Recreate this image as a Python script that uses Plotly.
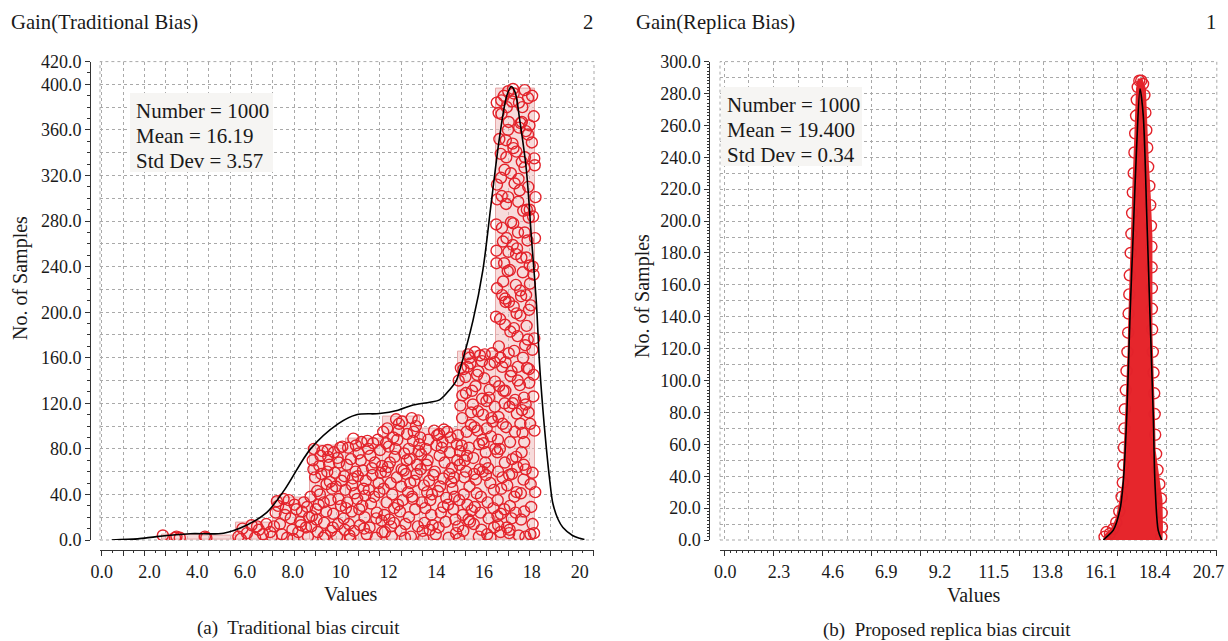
import plotly.graph_objects as go

W, H = 1228, 641
FONT = "Liberation Serif"
INK = "#1a1a1a"
RED = "#e3232b"

# ---------------- left chart data (Traditional Bias) ----------------
L_EDGES = [2.51, 4.08, 5.64, 7.17, 8.71, 10.24, 11.77, 13.31, 14.90, 16.48, 18.15]
L_COUNTS = [5, 4, 15, 37, 83, 89, 108, 98, 165, 396]

L_CURVE_X = [0.42, 1.5, 2.3, 3.7, 5.1, 6.06, 6.9, 7.65, 8.74, 9.89, 10.66, 11.63, 12.4, 13.03,
             13.73, 14.14, 14.56, 14.84, 14.98, 15.54, 15.95, 16.30, 16.65, 16.95, 17.14, 17.30,
             17.49, 17.77, 17.98, 18.19, 18.32, 18.46, 18.60, 18.75, 18.88, 19.1, 19.3, 19.7, 20.0, 20.2]
L_CURVE_Y = [0, 1, 3, 5.5, 6, 13, 24, 44, 80, 102, 110, 111, 114, 118.5,
             121, 123, 132, 140, 149, 193, 237, 296, 354, 390, 398, 393,
             369, 325, 266, 208, 155, 115, 82, 52, 32, 18, 11, 4, 1.5, 0.5]

# individual samples (value, jitter height inside its bar)
B1_X = [2.56, 3.07, 3.13, 3.27, 4.32, 4.38]
B1_Y = [4, 2, 3, 2, 3, 2]
B3_X = [5.72, 5.89, 6.08, 6.27, 6.42, 6.58, 6.75, 6.89, 7.05, 5.82, 6.50, 7.12]
B3_Y = [3, 10, 6, 13, 2, 9, 5, 14, 7, 1, 12, 3]
B4_X = [7.21, 7.38, 7.54, 7.67, 7.83, 7.98, 8.15, 8.30, 8.46, 8.63, 7.28, 7.46, 7.61, 7.76, 7.91,
        8.07, 8.23, 8.38, 8.55, 8.68, 7.33, 7.71, 8.02, 8.34, 8.60]
B4_Y = [12, 30, 5, 22, 35, 9, 27, 16, 33, 3, 24, 14, 36, 2, 19, 31, 7, 25, 11, 20, 34, 28, 1, 13, 29]
B5_X = [8.77, 8.93, 9.08, 9.24, 9.35, 9.52, 9.69, 9.80, 9.98, 10.17,
        8.83, 8.99, 9.13, 9.27, 9.44, 9.57, 9.72, 9.89, 10.04, 10.22,
        8.74, 8.88, 9.04, 9.19, 9.39, 9.48, 9.64, 9.85, 9.93, 10.13,
        8.86, 8.97, 9.16, 9.31, 9.41, 9.60, 9.76, 9.91, 10.07, 10.20,
        8.80, 9.02, 9.11, 9.29, 9.46, 9.55, 9.67, 9.87, 10.01, 10.15]
B5_Y = [12, 55, 31, 78, 4, 66, 23, 47, 81, 9,
        70, 18, 40, 2, 60, 35, 77, 14, 52, 28,
        38, 80, 7, 58, 25, 73, 45, 3, 68, 19,
        62, 27, 74, 15, 49, 8, 59, 36, 82, 44,
        21, 43, 65, 33, 79, 51, 11, 72, 30, 56]
B6_X = [10.28, 10.43, 10.56, 10.72, 10.87, 11.00, 11.18, 11.31, 11.47, 11.65,
        10.34, 10.48, 10.64, 10.78, 10.93, 11.09, 11.24, 11.40, 11.55, 11.71,
        10.26, 10.40, 10.59, 10.75, 10.90, 11.05, 11.21, 11.36, 11.51, 11.68,
        10.31, 10.46, 10.62, 10.81, 10.96, 11.12, 11.27, 11.43, 11.59, 11.74,
        10.37, 10.53, 10.69, 10.84, 10.98, 11.15, 11.33, 11.49, 11.62, 11.73,
        10.51, 11.03]
B6_Y = [33, 71, 8, 56, 86, 20, 44, 63, 2, 79,
        14, 48, 83, 27, 61, 5, 74, 38, 88, 17,
        66, 1, 41, 76, 30, 52, 11, 85, 24, 59,
        81, 25, 60, 13, 45, 87, 32, 68, 50, 7,
        4, 89, 36, 70, 10, 80, 57, 19, 42, 65,
        54, 39]
B7_X = [11.80, 11.95, 12.11, 12.26, 12.40, 12.57, 12.73, 12.86, 13.03, 13.20,
        11.85, 12.01, 12.16, 12.32, 12.48, 12.64, 12.78, 12.94, 13.09, 13.27,
        11.78, 11.92, 12.06, 12.23, 12.37, 12.53, 12.69, 12.89, 12.99, 13.15,
        11.88, 12.04, 12.20, 12.35, 12.51, 12.66, 12.82, 12.97, 13.12, 13.29,
        11.83, 11.98, 12.14, 12.29, 12.44, 12.60, 12.76, 12.91, 13.06, 13.23,
        11.90, 12.09, 12.24, 12.42, 12.55, 12.71, 12.85, 13.01, 13.18, 13.25]
B7_Y = [45, 98, 12, 73, 31, 104, 58, 20, 87, 66,
        7, 82, 40, 106, 25, 61, 93, 3, 52, 78,
        95, 33, 68, 15, 88, 47, 2, 71, 38, 100,
        60, 18, 90, 55, 8, 76, 42, 107, 27, 84,
        22, 64, 3, 80, 102, 35, 70, 50, 95, 12,
        85, 50, 28, 96, 62, 14, 80, 36, 58, 105]
B8_X = [13.35, 13.51, 13.67, 13.82, 13.98, 14.14, 14.30, 14.46, 14.63, 14.80,
        13.40, 13.56, 13.72, 13.88, 14.04, 14.19, 14.35, 14.52, 14.68, 14.86,
        13.33, 13.48, 13.64, 13.79, 13.94, 14.10, 14.26, 14.42, 14.57, 14.75,
        13.43, 13.59, 13.75, 13.91, 14.07, 14.23, 14.39, 14.55, 14.71, 14.88,
        13.37, 13.54, 13.70, 13.85, 14.01, 14.16, 14.32, 14.49, 14.65, 14.83,
        13.62, 14.12, 14.60, 13.46, 14.29, 14.77]
B8_Y = [62, 15, 88, 40, 5, 74, 29, 95, 51, 18,
        33, 80, 9, 57, 92, 24, 68, 2, 45, 84,
        90, 48, 70, 22, 60, 11, 86, 37, 77, 55,
        8, 66, 35, 96, 43, 81, 16, 58, 27, 70,
        75, 28, 52, 13, 83, 47, 97, 31, 63, 6,
        42, 93, 90, 1, 54, 38]
B9_X = [14.94, 15.11, 15.27, 15.40, 15.59, 15.75, 15.89, 16.07, 16.23, 16.41,
        14.98, 15.14, 15.30, 15.45, 15.62, 15.78, 15.93, 16.10, 16.26, 16.44,
        14.92, 15.06, 15.24, 15.39, 15.55, 15.71, 15.87, 16.03, 16.19, 16.37,
        15.01, 15.17, 15.33, 15.48, 15.64, 15.81, 15.96, 16.13, 16.29, 16.46,
        14.96, 15.09, 15.28, 15.43, 15.57, 15.73, 15.91, 16.05, 16.21, 16.39,
        14.91, 15.13, 15.22, 15.37, 15.53, 15.69, 15.85, 16.01, 16.17, 16.34,
        15.03, 15.19, 15.35, 15.50, 15.66, 15.83, 15.98, 16.15, 16.31, 16.47,
        14.95, 15.08, 15.25, 15.41, 15.60, 15.76, 15.92, 16.08, 16.24, 16.42,
        14.99, 15.15, 15.31, 15.46, 15.61, 15.79, 15.94, 16.11, 16.27, 16.45]
B9_Y = [140, 22, 95, 160, 58, 113, 9, 77, 132, 44,
        66, 150, 31, 101, 165, 3, 88, 122, 50, 156,
        12, 83, 129, 47, 72, 145, 38, 163, 19, 104,
        118, 55, 163, 26, 135, 62, 110, 5, 91, 139,
        35, 127, 74, 155, 14, 96, 157, 68, 125, 28,
        92, 8, 143, 81, 119, 41, 24, 142, 63, 164,
        151, 70, 18, 131, 53, 162, 85, 33, 107, 80,
        1, 107, 60, 16, 99, 148, 124, 57, 154, 11,
        78, 40, 152, 112, 29, 84, 60, 98, 2, 117]
B10_X = [16.54, 16.72, 16.88, 17.03, 17.20, 17.38, 17.55, 17.70, 17.88, 18.07,
         16.58, 16.75, 16.91, 17.07, 17.24, 17.41, 17.58, 17.74, 17.91, 18.10,
         16.52, 16.68, 16.85, 17.01, 17.17, 17.34, 17.51, 17.67, 17.84, 18.03,
         16.61, 16.78, 16.94, 17.10, 17.27, 17.44, 17.61, 17.77, 17.94, 18.12,
         16.56, 16.70, 16.89, 17.05, 17.22, 17.36, 17.53, 17.72, 17.86, 18.05,
         16.50, 16.66, 16.83, 16.99, 17.15, 17.32, 17.49, 17.65, 17.82, 18.00,
         16.63, 16.80, 16.96, 17.12, 17.29, 17.46, 17.63, 17.79, 17.96, 18.14,
         16.55, 16.73, 16.90, 17.06, 17.23, 17.39, 17.56, 17.73, 17.89, 18.08,
         16.59, 16.76, 16.92, 17.08, 17.25, 17.42, 17.59, 17.75, 17.92, 18.11,
         16.53, 16.69, 16.86, 17.02, 17.18, 17.35, 17.52, 17.68, 17.85, 18.02,
         16.62, 16.79, 16.95, 17.11, 17.28, 17.45, 17.62, 17.78, 17.95, 18.13,
         16.57, 16.71, 16.87, 17.04, 17.21, 17.37, 17.54, 17.71, 17.87, 18.06,
         16.51, 16.67, 16.84, 17.00, 17.16, 17.33, 17.50, 17.66, 17.83, 18.01,
         16.60, 16.77, 16.93, 17.09, 17.26, 17.43, 17.60, 17.76, 17.93, 18.09,
         16.54, 16.74, 16.90, 17.05, 17.20, 17.40, 17.57, 17.69, 17.90, 18.04,
         16.64, 16.81, 16.97, 17.13, 17.30, 17.47, 17.64, 17.80, 17.97, 18.15,
         16.56, 16.72, 16.88, 17.03, 17.19, 17.36, 17.55, 17.70, 17.88, 18.07,
         16.52, 16.70, 16.86, 17.01, 17.17, 17.34, 17.52, 17.68, 17.84, 18.03,
         16.59, 16.76, 16.92, 17.08, 17.24, 17.41, 17.58, 17.74, 17.91, 18.10]
B10_Y = [312, 45, 189, 367, 120, 256, 18, 395, 150, 233,
         88, 274, 351, 9, 205, 140, 332, 62, 290, 177,
         243, 160, 27, 301, 385, 73, 219, 125, 356, 14,
         375, 102, 265, 183, 38, 317, 94, 248, 5, 329,
         21, 339, 131, 57, 278, 199, 366, 171, 112, 284,
         196, 80, 390, 236, 148, 24, 307, 53, 263, 349,
         135, 227, 11, 322, 95, 384, 160, 290, 206, 42,
         299, 374, 209, 117, 344, 64, 248, 3, 138, 372,
         60, 152, 295, 30, 186, 270, 114, 359, 225, 96,
         384, 7, 120, 253, 71, 341, 197, 86, 310, 167,
         170, 262, 380, 144, 313, 4, 235, 188, 49, 265,
         35, 318, 68, 209, 396, 111, 41, 336, 283, 126,
         277, 194, 243, 360, 19, 224, 136, 66, 176, 390,
         108, 55, 336, 86, 166, 297, 380, 215, 102, 6,
         221, 302, 156, 6, 259, 179, 77, 327, 364, 240,
         352, 131, 48, 279, 123, 362, 289, 151, 29, 301,
         77, 386, 212, 164, 348, 42, 214, 270, 202, 145,
         254, 23, 325, 394, 58, 251, 102, 25, 388, 59,
         13, 215, 99, 237, 392, 152, 367, 119, 241, 335]

L_XTICK_VALS = [0, 2, 4, 6, 8, 10, 12, 14, 16, 18, 20]
L_XTICK_TEXT = ["0.0", "2.0", "4.0", "6.0", "8.0", "10", "12", "14", "16", "18", "20"]
L_YTICK_VALS = [0, 40, 80, 120, 160, 200, 240, 280, 320, 360, 400, 420]
L_YTICK_TEXT = ["0.0", "40.0", "80.0", "120.0", "160.0", "200.0", "240.0", "280.0",
                "320.0", "360.0", "400.0", "420.0"]
L_STATS = ["Number = 1000", "Mean = 16.19", "Std Dev = 3.57"]

# ---------------- right chart data (Replica Bias) ----------------
R_MASS_X = [16.22, 16.27, 16.41, 16.60, 16.77, 16.92, 17.05, 17.10, 17.13, 17.20, 17.27, 17.30,
            17.34, 17.41, 17.48, 17.56, 17.63, 17.70,
            17.85, 17.99, 18.03, 18.06, 18.12, 18.20, 18.27, 18.27, 18.27, 18.31, 18.34, 18.38,
            18.41, 18.55, 18.70, 18.72, 18.70]
R_MASS_Y = [0, 3, 5, 8, 14, 25, 37, 55, 77, 98, 119, 140, 161, 190, 224, 254, 283, 289,
            289, 283, 265, 255, 235, 215, 190, 160, 130, 110, 98, 75, 56, 40, 25, 8, 0]
R_CIRC_X = [16.25, 16.33, 16.48, 16.62, 16.75, 16.88, 16.98, 17.03, 17.06, 17.08, 17.10, 17.12,
            17.16, 17.19, 17.23, 17.26, 17.28, 17.31, 17.33, 17.37, 17.40, 17.43, 17.46, 17.50,
            17.53, 17.56, 17.60, 17.63, 17.67, 17.74,
            17.82, 17.90, 17.96, 18.00, 18.04, 18.08, 18.12, 18.17, 18.21, 18.24, 18.26, 18.27,
            18.28, 18.28, 18.29, 18.32, 18.35, 18.38, 18.40, 18.42, 18.46, 18.52, 18.60, 18.67,
            18.70, 18.71, 18.68]
R_CIRC_Y = [2, 5, 4, 7, 11, 18, 27, 36, 47, 58, 70, 82, 94, 106, 118, 130, 142, 154, 166, 180,
            192, 205, 218, 230, 243, 255, 266, 276, 284, 288,
            288, 286, 279, 268, 257, 246, 234, 222, 210, 197, 184, 171, 158, 145, 132, 118, 105,
            92, 79, 66, 54, 44, 35, 26, 17, 8, 2]
R_CURVE_X = [16.20, 16.34, 16.62, 16.91, 17.05, 17.20, 17.34, 17.48, 17.62, 17.77, 17.91, 18.06,
             18.20, 18.34, 18.41, 18.55, 18.70]
R_CURVE_Y = [0, 2, 6, 19, 36, 77, 140, 193, 245, 283, 266, 203, 140, 77, 36, 6, 0]

R_XTICK_VALS = [0, 2.3, 4.6, 6.9, 9.2, 11.5, 13.8, 16.1, 18.4, 20.7]
R_XTICK_TEXT = ["0.0", "2.3", "4.6", "6.9", "9.2", "11.5", "13.8", "16.1", "18.4", "20.7"]
R_STATS = ["Number = 1000", "Mean = 19.400", "Std Dev = 0.34"]

# ---------------- layout geometry ----------------
def fx(p):
    return p / W


def fy(p):
    return 1 - p / H


Y_DOM = [fy(540), fy(61.6)]
L_DOM = [fx(100), fx(594)]
R_DOM = [fx(720), fx(1216.8)]
L_RANGE = [-0.07, 20.6]
R_RANGE = [-0.227, 21.06]
X_LINE_POS = fy(549.5)

fig = go.Figure()

# left bars
fig.add_trace(go.Bar(
    x=L_EDGES[:-1], y=L_COUNTS,
    width=[b - a for a, b in zip(L_EDGES[:-1], L_EDGES[1:])], offset=0,
    marker=dict(color="rgba(240,190,190,0.55)", line=dict(color="#e7a7a7", width=1)),
    xaxis="x", yaxis="y", showlegend=False, hoverinfo="skip"))

LX = B1_X + B3_X + B4_X + B5_X + B6_X + B7_X + B8_X + B9_X + B10_X
LY = B1_Y + B3_Y + B4_Y + B5_Y + B6_Y + B7_Y + B8_Y + B9_Y + B10_Y
fig.add_trace(go.Scatter(
    x=LX, y=LY, mode="markers",
    marker=dict(symbol="circle-open", size=11, color=RED, line=dict(width=1.4, color=RED)),
    xaxis="x", yaxis="y", showlegend=False, hoverinfo="skip"))

fig.add_trace(go.Scatter(
    x=L_CURVE_X, y=L_CURVE_Y, mode="lines",
    line=dict(color="black", width=1.6, shape="spline", smoothing=0.9),
    xaxis="x", yaxis="y", showlegend=False, hoverinfo="skip"))

# right: dense sample mass
fig.add_trace(go.Scatter(
    x=R_MASS_X, y=R_MASS_Y, mode="lines", fill="toself", fillcolor="#e6262c",
    line=dict(color="#e6262c", width=1.5),
    xaxis="x2", yaxis="y2", showlegend=False, hoverinfo="skip"))
fig.add_trace(go.Scatter(
    x=R_CIRC_X, y=R_CIRC_Y, mode="markers",
    marker=dict(symbol="circle-open", size=11, color=RED, line=dict(width=1.4, color=RED)),
    xaxis="x2", yaxis="y2", showlegend=False, hoverinfo="skip"))
fig.add_trace(go.Scatter(
    x=R_CURVE_X, y=R_CURVE_Y, mode="lines",
    line=dict(color="black", width=1.6, shape="spline", smoothing=0.8),
    xaxis="x2", yaxis="y2", showlegend=False, hoverinfo="skip"))

# dummy traces so that the offset axes are drawn
for xa, ya in [("x3", "y"), ("x5", "y"), ("x", "y3"), ("x", "y5"),
               ("x4", "y2"), ("x6", "y2"), ("x2", "y4")]:
    fig.add_trace(go.Scatter(x=[None], y=[None], xaxis=xa, yaxis=ya,
                             showlegend=False, hoverinfo="skip"))

tickfont = dict(family=FONT, size=18, color=INK)
GRID = dict(showgrid=True, gridcolor="#a9a9a9", griddash="dot", gridwidth=1,
            showticklabels=False, ticks="", zeroline=False, showline=False, automargin=False)
NOAM = dict(automargin=False)

layout = dict(
    width=W, height=H, margin=dict(l=0, r=0, t=0, b=0, autoexpand=False),
    paper_bgcolor="white", plot_bgcolor="white", showlegend=False,
    font=dict(family=FONT, color=INK),
    bargap=0,
    xaxis=dict(domain=L_DOM, range=L_RANGE, anchor="y", tick0=0, dtick=0.895, **GRID),
    yaxis=dict(domain=Y_DOM, range=[0, 420], anchor="x", tick0=0, dtick=20, **GRID),
    xaxis2=dict(domain=R_DOM, range=R_RANGE, anchor="y2", tick0=-0.047, dtick=1.054, **GRID),
    yaxis2=dict(domain=Y_DOM, range=[0, 300], anchor="x2", tick0=0, dtick=10, **GRID),
    xaxis3=dict(overlaying="x", anchor="free", position=X_LINE_POS, range=L_RANGE,
                showgrid=False, zeroline=False, showline=True, linecolor="#333", linewidth=1,
                ticks="outside", ticklen=5, tickcolor="#333", tick0=0, dtick=0.895,
                showticklabels=False,
                minor=dict(ticks="outside", ticklen=2.5, tickcolor="#333", tick0=0,
                           dtick=0.4475, showgrid=False), **NOAM),
    xaxis5=dict(overlaying="x", anchor="free", position=X_LINE_POS, range=L_RANGE,
                showgrid=False, zeroline=False, showline=False, tickmode="array",
                tickvals=L_XTICK_VALS, ticktext=L_XTICK_TEXT, ticks="outside", ticklen=6,
                tickcolor="rgba(0,0,0,0)", tickfont=tickfont, **NOAM),
    yaxis3=dict(overlaying="y", anchor="free", position=fx(90), side="left", range=[0, 420],
                showgrid=False, zeroline=False, showline=True, linecolor="#333", linewidth=1,
                tickmode="array", tickvals=L_YTICK_VALS, ticktext=L_YTICK_TEXT,
                ticks="outside", ticklen=5, tickcolor="#333", tickfont=tickfont, **NOAM),
    yaxis5=dict(overlaying="y", anchor="free", position=fx(90), side="left", range=[0, 420],
                showgrid=False, zeroline=False, showline=False, tick0=0, dtick=10,
                ticks="outside", ticklen=3, tickcolor="#333", showticklabels=False, **NOAM),
    xaxis4=dict(overlaying="x2", anchor="free", position=X_LINE_POS, range=R_RANGE,
                showgrid=False, zeroline=False, showline=True, linecolor="#333", linewidth=1,
                ticks="outside", ticklen=5, tickcolor="#333", tick0=-0.047, dtick=2.108,
                showticklabels=False,
                minor=dict(ticks="outside", ticklen=2.5, tickcolor="#333", tick0=-0.047,
                           dtick=0.2635, showgrid=False), **NOAM),
    xaxis6=dict(overlaying="x2", anchor="free", position=X_LINE_POS, range=R_RANGE,
                showgrid=False, zeroline=False, showline=False, tickmode="array",
                tickvals=R_XTICK_VALS, ticktext=R_XTICK_TEXT, ticks="outside", ticklen=6,
                tickcolor="rgba(0,0,0,0)", tickfont=tickfont, **NOAM),
    yaxis4=dict(overlaying="y2", anchor="free", position=fx(709.3), side="left", range=[0, 300],
                showgrid=False, zeroline=False, showline=True, linecolor="#333", linewidth=1,
                tick0=0, dtick=20, tickformat=".1f", ticks="outside", ticklen=5,
                tickcolor="#333", tickfont=tickfont,
                minor=dict(ticks="outside", ticklen=2.5, tickcolor="#333", tick0=0, dtick=2,
                           showgrid=False), **NOAM),
)
fig.update_layout(**layout)

# dotted frames around plot areas
for xr, yr in [("x domain", "y domain"), ("x2 domain", "y2 domain")]:
    fig.add_shape(type="rect", xref=xr, yref=yr, x0=0, x1=1, y0=0, y1=1,
                  line=dict(color="#a9a9a9", width=1, dash="dot"), layer="below")

# statistics boxes (background panels)
for x0, x1, y0, y1 in [(130, 273, 93, 172), (721, 862, 87, 166)]:
    fig.add_shape(type="rect", xref="paper", yref="paper", x0=fx(x0), x1=fx(x1),
                  y0=fy(y1), y1=fy(y0), fillcolor="#f6f5f3", line=dict(width=0), layer="above")


def txt(text, x, y, size=20, xanchor="center", angle=0):
    fig.add_annotation(text=text, x=x, y=y, xref="paper", yref="paper", showarrow=False,
                       xanchor=xanchor, yanchor="middle", textangle=angle,
                       font=dict(family=FONT, size=size, color=INK))


txt("Gain(Traditional Bias)", fx(9), fy(22), size=20.7, xanchor="left")
txt("2", fx(588), fy(22), size=20.7)
txt("Gain(Replica Bias)", fx(634), fy(22), size=20.7, xanchor="left")
txt("1", fx(1211), fy(22), size=20.7)
txt("No. of Samples", fx(21), fy(278), angle=-90)
txt("No. of Samples", fx(642), fy(296), angle=-90)
txt("Values", fx(351), fy(594))
txt("Values", fx(974), fy(595))
txt("(a)  Traditional bias circuit", fx(298), fy(628), size=19)
txt("(b)  Proposed replica bias circuit", fx(947), fy(630), size=19)

for i, s in enumerate(L_STATS):
    txt(s, fx(134), fy(111 + 24.8 * i), size=21, xanchor="left")
for i, s in enumerate(R_STATS):
    txt(s, fx(725), fy(105 + 24.8 * i), size=21, xanchor="left")

fig.write_html("out.html")
